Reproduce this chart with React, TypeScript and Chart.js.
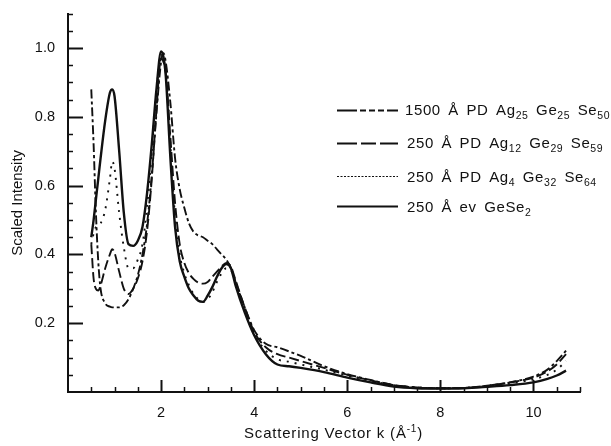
import React, { useEffect, useRef } from 'react';
import { Chart, registerables } from 'chart.js';

Chart.register(...registerables);

// Scattering vector k (Å^-1)
const K = [0.5, 0.55, 0.6, 0.65, 0.7, 0.8, 0.9, 0.95, 1.0, 1.1, 1.2, 1.3, 1.4, 1.5, 1.6, 1.7, 1.8, 1.9, 2.0, 2.05, 2.1, 2.2, 2.3, 2.4, 2.5, 2.6, 2.7, 2.8, 2.9, 3.0, 3.1, 3.2, 3.3, 3.4, 3.5, 3.6, 3.8, 4.0, 4.25, 4.5, 4.75, 5.0, 5.5, 6.0, 6.5, 7.0, 7.5, 8.0, 8.5, 9.0, 9.5, 10.0, 10.3, 10.5, 10.7];

// 1500 Å PD Ag25 Ge25 Se50
const I_AG25 = [0.88, 0.72, 0.52, 0.38, 0.30, 0.258, 0.248, 0.246, 0.246, 0.246, 0.252, 0.27, 0.30, 0.34, 0.40, 0.49, 0.63, 0.81, 0.96, 0.985, 0.96, 0.84, 0.68, 0.59, 0.535, 0.49, 0.465, 0.455, 0.45, 0.44, 0.43, 0.415, 0.40, 0.385, 0.36, 0.32, 0.245, 0.18, 0.14, 0.13, 0.118, 0.105, 0.075, 0.052, 0.035, 0.02, 0.013, 0.011, 0.012, 0.018, 0.028, 0.045, 0.065, 0.09, 0.12];
// 250 Å PD Ag12 Ge29 Se59
const I_AG12 = [0.43, 0.33, 0.30, 0.295, 0.31, 0.36, 0.40, 0.415, 0.405, 0.35, 0.30, 0.285, 0.30, 0.33, 0.38, 0.47, 0.62, 0.82, 0.97, 0.96, 0.93, 0.74, 0.55, 0.43, 0.375, 0.345, 0.328, 0.318, 0.315, 0.32, 0.335, 0.35, 0.365, 0.375, 0.365, 0.325, 0.245, 0.175, 0.13, 0.11, 0.10, 0.09, 0.07, 0.05, 0.034, 0.02, 0.013, 0.011, 0.012, 0.018, 0.028, 0.042, 0.06, 0.08, 0.11];
// 250 Å PD Ag4 Ge32 Se64
const I_AG4 = [0.43, 0.46, 0.48, 0.485, 0.49, 0.53, 0.62, 0.67, 0.65, 0.52, 0.42, 0.36, 0.36, 0.385, 0.43, 0.54, 0.70, 0.87, 0.98, 0.965, 0.93, 0.72, 0.51, 0.40, 0.345, 0.31, 0.285, 0.27, 0.262, 0.27, 0.29, 0.32, 0.345, 0.36, 0.355, 0.32, 0.24, 0.17, 0.12, 0.095, 0.088, 0.08, 0.065, 0.048, 0.032, 0.02, 0.013, 0.011, 0.012, 0.017, 0.025, 0.037, 0.05, 0.065, 0.09];
// 250 Å ev GeSe2
const I_GESE2 = [0.45, 0.50, 0.56, 0.62, 0.68, 0.79, 0.87, 0.88, 0.86, 0.70, 0.52, 0.43, 0.425, 0.44, 0.48, 0.58, 0.72, 0.88, 0.99, 0.975, 0.92, 0.68, 0.48, 0.38, 0.335, 0.30, 0.28, 0.265, 0.262, 0.28, 0.305, 0.335, 0.36, 0.372, 0.36, 0.31, 0.23, 0.165, 0.11, 0.08, 0.075, 0.07, 0.058, 0.042, 0.028, 0.016, 0.011, 0.01, 0.011, 0.015, 0.02, 0.028, 0.038, 0.048, 0.062];

const X_TICKS = [2, 4, 6, 8, 10];
const Y_TICKS = [0.2, 0.4, 0.6, 0.8, 1.0];

const LEGEND_LABELS = [
  '1500 Å PD Ag_{25} Ge_{25} Se_{50}',
  '250 Å PD Ag_{12} Ge_{29} Se_{59}',
  '250 Å PD Ag_{4} Ge_{32} Se_{64}',
  '250 Å ev GeSe_{2}',
];

const INK = '#111';
const FONT = '"Liberation Sans", Arial, Helvetica, sans-serif';

const SERIES = [
  { data: I_AG25, dash: [9, 3, 3, 3], width: 1.9, legendDash: [20, 3, 6, 3, 6, 3, 6, 3], legendWidth: 2 },
  { data: I_AG12, dash: [10, 4], width: 1.9, legendDash: [20, 4, 15, 4], legendWidth: 2 },
  { data: I_AG4, dash: [2, 6], width: 1.9, legendDash: [2, 1.5], legendWidth: 1.2 },
  { data: I_GESE2, dash: [] as number[], width: 2.4, legendDash: [] as number[], legendWidth: 2 },
];

function parseLabel(s: string): { t: string; sub: boolean }[] {
  const out: { t: string; sub: boolean }[] = [];
  const re = /_\{([^}]*)\}/g;
  let last = 0;
  let m: RegExpExecArray | null;
  while ((m = re.exec(s))) {
    if (m.index > last) out.push({ t: s.slice(last, m.index), sub: false });
    out.push({ t: m[1], sub: true });
    last = m.index + m[0].length;
  }
  if (last < s.length) out.push({ t: s.slice(last), sub: false });
  return out;
}

const decorPlugin = {
  id: 'decor',
  afterDraw(chart: any) {
    const ctx: CanvasRenderingContext2D = chart.ctx;
    const xs = chart.scales.x;
    const ys = chart.scales.y;
    const ca = chart.chartArea;
    ctx.save();
    ctx.strokeStyle = INK;
    ctx.fillStyle = INK;
    ctx.setLineDash([]);
    // inward y ticks
    for (let i = 1; i <= 22; i++) {
      const v = i * 0.05;
      const major = i % 4 === 0 && i <= 20;
      const py = Math.round(ys.getPixelForValue(v)) + 0.5;
      ctx.lineWidth = major ? 2 : 1.5;
      ctx.beginPath();
      ctx.moveTo(ca.left, py);
      ctx.lineTo(ca.left + (major ? 15 : 5), py);
      ctx.stroke();
    }
    // inward x ticks
    for (let i = 1; i <= 22; i++) {
      const v = i * 0.5;
      const major = i % 4 === 0;
      const px = Math.round(xs.getPixelForValue(v)) + 0.5;
      ctx.lineWidth = major ? 2 : 1.5;
      ctx.beginPath();
      ctx.moveTo(px, ca.bottom);
      ctx.lineTo(px, ca.bottom - (major ? 12 : 5));
      ctx.stroke();
    }
    // x axis title with superscript
    const mainFont = `15px ${FONT}`;
    const supFont = `10px ${FONT}`;
    const parts = [
      { t: 'Scattering Vector k (Å', f: mainFont, dy: 0 },
      { t: '-1', f: supFont, dy: -6 },
      { t: ')', f: mainFont, dy: 0 },
    ];
    (ctx as any).letterSpacing = '0.8px';
    let total = 0;
    for (const p of parts) {
      ctx.font = p.f;
      total += ctx.measureText(p.t).width;
    }
    let x = 333.5 - total / 2;
    ctx.textBaseline = 'alphabetic';
    ctx.textAlign = 'left';
    for (const p of parts) {
      ctx.font = p.f;
      ctx.fillText(p.t, x, 438 + p.dy);
      x += ctx.measureText(p.t).width;
    }
    // legend
    const rowsLine = [110, 143, 176, 206];
    const rowsText = [115, 148, 182, 212];
    const textX = [405, 407, 407, 407];
    const extraSpace = 2.8;
    (ctx as any).letterSpacing = '0.6px';
    SERIES.forEach((s, i) => {
      ctx.lineWidth = s.legendWidth;
      ctx.setLineDash(s.legendDash);
      ctx.beginPath();
      ctx.moveTo(337, rowsLine[i] + 0.5);
      ctx.lineTo(398, rowsLine[i] + 0.5);
      ctx.stroke();
      ctx.setLineDash([]);
      let tx = textX[i];
      for (const seg of parseLabel(LEGEND_LABELS[i])) {
        if (seg.sub) {
          ctx.font = `10.5px ${FONT}`;
          ctx.fillText(seg.t, tx, rowsText[i] + 4);
          tx += ctx.measureText(seg.t).width;
        } else {
          ctx.font = `15px ${FONT}`;
          const pieces = seg.t.split(' ');
          pieces.forEach((w, j) => {
            if (w) {
              ctx.fillText(w, tx, rowsText[i]);
              tx += ctx.measureText(w).width;
            }
            if (j < pieces.length - 1) tx += ctx.measureText(' ').width + extraSpace;
          });
        }
      }
    });
    ctx.restore();
  },
};

export default function App() {
  const ref = useRef<HTMLCanvasElement | null>(null);
  useEffect(() => {
    if (!ref.current) return;
    const chart = new Chart(ref.current, {
      type: 'line',
      data: {
        datasets: SERIES.map((s, i) => ({
          label: LEGEND_LABELS[i],
          data: K.map((k, j) => ({ x: k, y: s.data[j] })),
          borderColor: INK,
          borderWidth: s.width,
          borderDash: s.dash,
          pointRadius: 0,
          fill: false,
          cubicInterpolationMode: 'monotone' as const,
        })),
      },
      options: {
        responsive: false,
        animation: false,
        events: [],
        layout: { padding: { left: 0, right: 31, top: 7, bottom: 0 } },
        plugins: { legend: { display: false }, tooltip: { enabled: false } },
        scales: {
          x: {
            type: 'linear',
            min: 0,
            max: 11,
            afterBuildTicks: (s: any) => {
              s.ticks = X_TICKS.map((value) => ({ value }));
            },
            afterFit: (s: any) => {
              s.height = 54;
            },
            grid: { display: false },
            border: { display: true, width: 2, color: INK },
            ticks: {
              color: INK,
              font: { family: FONT, size: 14.5 },
              padding: 4,
              autoSkip: false,
              maxRotation: 0,
              callback: (v: any) => String(v),
            },
          },
          y: {
            type: 'linear',
            min: 0,
            max: 1.1,
            afterBuildTicks: (s: any) => {
              s.ticks = Y_TICKS.map((value) => ({ value }));
            },
            afterFit: (s: any) => {
              s.width = 68;
            },
            grid: { display: false },
            border: { display: true, width: 2, color: INK },
            ticks: {
              color: INK,
              font: { family: FONT, size: 14.5 },
              padding: 5,
              callback: (v: any) => Number(v).toFixed(1),
            },
            title: {
              display: true,
              text: 'Scaled Intensity',
              color: INK,
              font: { family: FONT, size: 15 },
              padding: { top: 8.5, bottom: 0 },
            },
          },
        },
      },
      plugins: [decorPlugin],
    });
    return () => chart.destroy();
  }, []);
  return (
    <div style={{ position: 'absolute', left: 0, top: 0, width: 611, height: 446, background: '#fff' }}>
      <canvas ref={ref} width={611} height={446} style={{ display: 'block' }} />
    </div>
  );
}
